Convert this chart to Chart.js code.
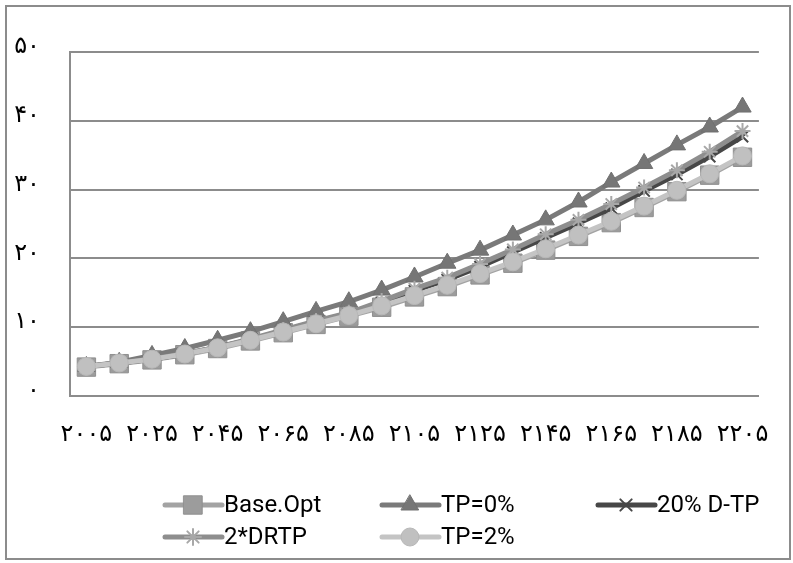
<!DOCTYPE html>
<html>
<head>
<meta charset="utf-8">
<script src="https://cdn.jsdelivr.net/npm/chart.js@4/dist/chart.umd.min.js"></script>
<style>
  html, body { margin: 0; padding: 0; background: #fff; }
  #wrap { width: 793px; height: 563px; }
</style>
</head>
<body>
<div id="wrap"><canvas id="myChart" width="793" height="563"></canvas></div>
<script>
var years = ['۲۰۰۵', '۲۰۱۵', '۲۰۲۵', '۲۰۳۵', '۲۰۴۵', '۲۰۵۵', '۲۰۶۵', '۲۰۷۵', '۲۰۸۵', '۲۰۹۵', '۲۱۰۵',
  '۲۱۱۵', '۲۱۲۵', '۲۱۳۵', '۲۱۴۵', '۲۱۵۵', '۲۱۶۵', '۲۱۷۵', '۲۱۸۵', '۲۱۹۵', '۲۲۰۵'];
var yTickLabels = ['۰', '۱۰', '۲۰', '۳۰', '۴۰', '۵۰'];
var seriesNames = ['Base.Opt', 'TP=0%', '20% D-TP', '2*DRTP', 'TP=2%'];

var baseOpt = [4.2, 4.7, 5.25, 6.0, 6.9, 8.0, 9.2, 10.4, 11.6, 12.9, 14.4, 15.9, 17.6, 19.3, 21.2, 23.2, 25.2, 27.4, 29.7, 32.1, 34.7];
var tp0 = [4.3, 4.9, 5.9, 6.9, 8.1, 9.35, 10.8, 12.3, 13.7, 15.4, 17.3, 19.3, 21.2, 23.4, 25.6, 28.2, 31.1, 33.8, 36.5, 39.1, 42.0];
var dtp20 = [4.3, 4.8, 5.35, 6.1, 7.1, 8.2, 9.5, 10.8, 12.0, 13.6, 15.3, 16.9, 18.8, 20.9, 23.0, 25.1, 27.3, 29.8, 32.2, 34.8, 37.7];
var drtp2 = [4.3, 4.8, 5.4, 6.2, 7.1, 8.3, 9.6, 10.9, 12.1, 13.8, 15.6, 17.2, 19.2, 21.3, 23.5, 25.6, 27.9, 30.3, 32.8, 35.5, 38.5];
var tp2 = [4.3, 4.8, 5.35, 6.1, 7.0, 8.1, 9.3, 10.5, 11.7, 13.1, 14.6, 16.1, 17.8, 19.5, 21.4, 23.4, 25.4, 27.6, 29.9, 32.3, 34.9];

var digitFont = "'DejaVu Sans', sans-serif";

// white page and the grey frame round it
var frame = {
  id: 'frame',
  beforeDraw: function(chart) {
    var c = chart.ctx;
    c.save();
    c.fillStyle = '#fff';
    c.fillRect(0, 0, chart.width, chart.height);
    c.strokeStyle = '#8c8c8c';
    c.lineWidth = 2;
    c.strokeRect(6, 6, 784, 553);
    c.restore();
  }
};

// excel style legend: line sample with marker, three columns
var legendBox = {
  id: 'legendBox',
  afterDraw: function(chart) {
    var c = chart.ctx;
    var cols = [165, 382, 598];
    var rows = [505, 537];
    c.save();
    chart.data.datasets.forEach(function(ds, i) {
      var x = cols[i % 3];
      var y = rows[Math.floor(i / 3)];
      c.strokeStyle = ds.borderColor;
      c.lineWidth = 5;
      c.lineCap = 'round';
      c.beginPath();
      c.moveTo(x, y);
      c.lineTo(x + 57, y);
      c.stroke();
      c.fillStyle = ds.pointBackgroundColor;
      c.strokeStyle = ds.pointBorderColor;
      c.lineWidth = ds.pointBorderWidth;
      Chart.helpers.drawPoint(c, {pointStyle: ds.pointStyle, radius: ds.pointRadius, rotation: 0, borderWidth: ds.pointBorderWidth}, x + 28, y);
      c.fillStyle = '#000';
      c.font = "24px Roboto";
      c.textBaseline = 'middle';
      c.textAlign = 'left';
      c.fillText(ds.label, x + 59, y + 1);
    });
    c.restore();
  }
};

function makeSet(label, data, line, fill, edge, style, r, order) {
  return {
    label: label,
    data: data,
    borderColor: line,
    borderWidth: 5,
    pointStyle: style,
    pointRadius: r,
    pointHoverRadius: r,
    pointBackgroundColor: fill,
    pointBorderColor: edge,
    pointBorderWidth: style == 'crossRot' || style == 'star' ? 2 : 1,
    tension: 0,
    order: order
  };
}

var ctx = document.getElementById('myChart').getContext('2d');
var myChart = new Chart(ctx, {
  type: 'line',
  data: {
    labels: years,
    datasets: [
      makeSet(seriesNames[0], baseOpt, '#a3a3a3', '#9c9c9c', '#8f8f8f', 'rect', 13, 5),
      makeSet(seriesNames[1], tp0, '#7a7a7a', '#767676', '#707070', 'triangle', 10, 4),
      makeSet(seriesNames[2], dtp20, '#474747', '#474747', '#474747', 'crossRot', 8, 3),
      makeSet(seriesNames[3], drtp2, '#8e8e8e', '#a8a8a8', '#a8a8a8', 'star', 8, 2),
      makeSet(seriesNames[4], tp2, '#c4c4c4', '#c0c0c0', '#b8b8b8', 'circle', 9, 1)
    ]
  },
  options: {
    responsive: false,
    animation: false,
    layout: {padding: {top: 52, right: 30, left: 0, bottom: 0}},
    plugins: {
      legend: {display: false},
      tooltip: {enabled: false}
    },
    scales: {
      x: {
        offset: true,
        grid: {display: false, drawTicks: false},
        border: {color: '#8c8c8c', width: 2},
        afterFit: function(scale) { scale.height = 167; },
        ticks: {
          autoSkip: false,
          maxRotation: 0,
          padding: 24,
          color: '#000',
          font: {family: digitFont, size: 24},
          callback: function(v, i) { return i % 2 ? '' : years[i]; }
        }
      },
      y: {
        min: 0,
        max: 50,
        grid: {color: '#8c8c8c', lineWidth: 2, drawTicks: false},
        border: {color: '#8c8c8c', width: 2},
        afterFit: function(scale) { scale.width = 70; },
        ticks: {
          stepSize: 10,
          padding: 30,
          labelOffset: -5,
          color: '#000',
          font: {family: digitFont, size: 24},
          callback: function(v) { return yTickLabels[v / 10]; }
        }
      }
    }
  },
  plugins: [frame, legendBox]
});
</script>
</body>
</html>
